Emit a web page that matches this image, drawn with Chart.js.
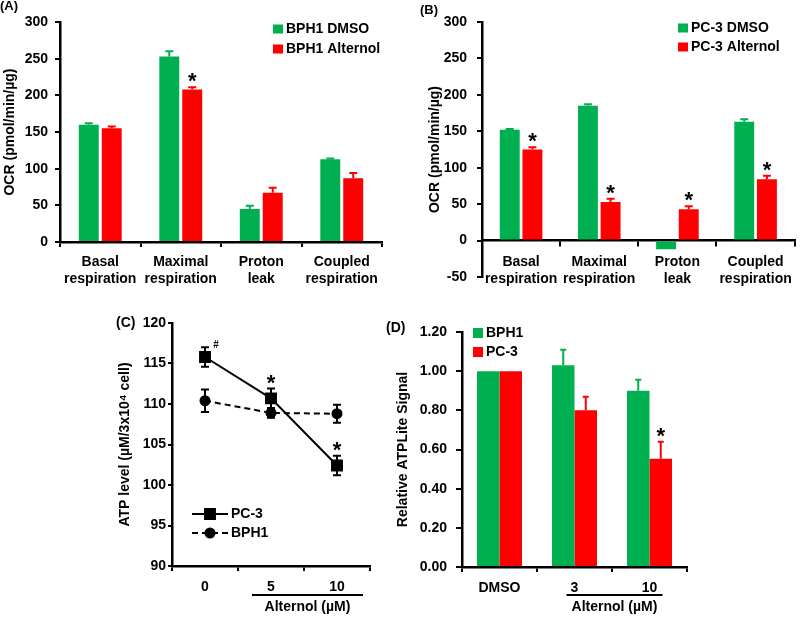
<!DOCTYPE html>
<html>
<head>
<meta charset="utf-8">
<script src="https://cdn.jsdelivr.net/npm/chart.js@4/dist/chart.umd.min.js"></script>
<style>
  body { margin: 0; background: #fff; width: 800px; height: 618px; position: relative; overflow: hidden; }
  canvas { position: absolute; }
</style>
</head>
<body>
<canvas id="ocrBph1" width="400" height="300" style="left:0;top:0"></canvas>
<canvas id="ocrPc3" width="400" height="300" style="left:400px;top:0"></canvas>
<canvas id="atpLevel" width="380" height="318" style="left:0;top:300px"></canvas>
<canvas id="atpLite" width="420" height="318" style="left:380px;top:300px"></canvas>
<script>
// --- datos ---
const respLabels = [["Basal", "respiration"], ["Maximal", "respiration"], ["Proton", "leak"], ["Coupled", "respiration"]];

const bphDmso = [160, 253, 45, 113];
const bphDmsoErr = [2, 7, 4.5, 1];
const bphAlt = [155, 208, 67, 87];
const bphAltErr = [2.5, 3, 7, 7];
const bphAltStar = ["", "*", "", ""];

const pc3Dmso = [152, 185, -12, 163];
const pc3DmsoErr = [1, 2, 0, 3.5];
const pc3Alt = [125, 53, 43, 84];
const pc3AltErr = [3, 4.5, 4, 5];
const pc3AltStar = ["*", "*", "*", "*"];

const doseLabels = ["0", "5", "10"];
const atpPc3 = [115.8, 110.7, 102.4];
const atpPc3Err = [1.2, 1.2, 1.2];
const atpPc3Mark = ["#", "*", "*"];
const atpBph1 = [110.4, 108.9, 108.8];
const atpBph1Err = [1.4, 0.6, 1.1];

const liteLabels = ["DMSO", "3", "10"];
const liteBph1 = [1.00, 1.03, 0.90];
const liteBph1Err = [0, 0.08, 0.056];
const litePc3 = [1.00, 0.80, 0.553];
const litePc3Err = [0, 0.07, 0.086];
const litePc3Star = ["", "", "*"];

const ARIAL = "'Liberation Sans', Arial, sans-serif";
const GREEN = "#00B050";
const RED = "#FF0000";

// barras de error (solo hacia arriba en las barras, a ambos lados en la linea)
const errorBars = {
    id: "errorBars",
    afterDatasetsDraw(chart, args, opts) {
        const ctx = chart.ctx;
        const y = chart.scales.y;
        ctx.save();
        chart.data.datasets.forEach((ds, i) => {
            if (!ds.errors) return;
            chart.getDatasetMeta(i).data.forEach((el, j) => {
                const e = ds.errors[j];
                if (!e) return;
                const v = ds.data[j];
                const top = y.getPixelForValue(v + e);
                const bot = y.getPixelForValue(opts.both ? v - e : v);
                ctx.strokeStyle = opts.color || ds.backgroundColor;
                ctx.lineWidth = opts.width;
                ctx.beginPath();
                ctx.moveTo(el.x, bot);
                ctx.lineTo(el.x, top);
                ctx.moveTo(el.x - opts.cap, top);
                ctx.lineTo(el.x + opts.cap, top);
                if (opts.both) {
                    ctx.moveTo(el.x - opts.cap, bot);
                    ctx.lineTo(el.x + opts.cap, bot);
                }
                ctx.stroke();
            });
        });
        ctx.restore();
    }
};

// asteriscos y # sobre las barras de error
const starMarks = {
    id: "starMarks",
    afterDatasetsDraw(chart, args, opts) {
        const ctx = chart.ctx;
        const y = chart.scales.y;
        ctx.save();
        ctx.fillStyle = "#000";
        ctx.textAlign = "center";
        ctx.textBaseline = "alphabetic";
        chart.data.datasets.forEach((ds, i) => {
            if (!ds.marks) return;
            chart.getDatasetMeta(i).data.forEach((el, j) => {
                const m = ds.marks[j];
                if (!m) return;
                const top = y.getPixelForValue(ds.data[j] + (ds.errors ? ds.errors[j] : 0));
                if (m === "#") {
                    ctx.font = opts.hashFont;
                    ctx.fillText(m, el.x + opts.hashDx, top + opts.hashDy);
                } else {
                    ctx.font = opts.font;
                    ctx.fillText(m, el.x, top + opts.dy);
                }
            });
        });
        ctx.restore();
    }
};

// leyenda dibujada dentro del panel
const panelLegend = {
    id: "panelLegend",
    afterDraw(chart, args, opts) {
        const ctx = chart.ctx;
        ctx.save();
        ctx.font = opts.font;
        ctx.textBaseline = "middle";
        ctx.textAlign = "left";
        chart.data.datasets.forEach((ds, i) => {
            const yy = opts.y + i * opts.rowGap;
            if (opts.lines) {
                ctx.strokeStyle = ds.borderColor;
                ctx.lineWidth = ds.borderWidth;
                ctx.setLineDash(ds.borderDash || []);
                ctx.beginPath();
                ctx.moveTo(opts.x, yy);
                ctx.lineTo(opts.x + opts.sample, yy);
                ctx.stroke();
                ctx.setLineDash([]);
                ctx.fillStyle = ds.pointBackgroundColor;
                Chart.helpers.drawPoint(ctx, { pointStyle: ds.pointStyle, radius: ds.pointRadius, borderWidth: 1 }, opts.x + opts.sample / 2, yy);
            } else {
                ctx.fillStyle = ds.backgroundColor;
                ctx.fillRect(opts.x, yy - opts.box / 2, opts.sample, opts.box);
            }
            ctx.fillStyle = "#000";
            ctx.fillText(ds.label, opts.x + opts.sample + opts.textGap, yy);
        });
        ctx.restore();
    }
};

// letras de panel y la linea "Alternol (uM)"
const panelText = {
    id: "panelText",
    afterDraw(chart, args, opts) {
        const ctx = chart.ctx;
        ctx.save();
        ctx.fillStyle = "#000";
        ctx.textBaseline = "middle";
        (opts.items || []).forEach((t) => {
            ctx.font = t.font;
            ctx.textAlign = t.align || "left";
            ctx.fillText(t.text, t.x, t.y);
        });
        if (opts.bracket) {
            const b = opts.bracket;
            const xs = chart.scales.x;
            const labels = chart.data.labels;
            const x1 = xs.getPixelForValue(labels.indexOf(b.from)) + b.dxFrom;
            const x2 = xs.getPixelForValue(labels.indexOf(b.to)) + b.dxTo;
            const ly = chart.chartArea.bottom + b.lineDy;
            ctx.strokeStyle = "#000";
            ctx.lineWidth = 2;
            ctx.beginPath();
            ctx.moveTo(x1, ly);
            ctx.lineTo(x2, ly);
            ctx.stroke();
            ctx.font = b.font;
            ctx.textAlign = "center";
            ctx.fillText(b.text, (x1 + x2) / 2, chart.chartArea.bottom + b.textDy);
        }
        ctx.restore();
    }
};

const plugins = [errorBars, starMarks, panelLegend, panelText];

function axisLines(tickLength) {
    return {
        grid: { display: true, drawOnChartArea: false, drawTicks: true, tickLength: tickLength, color: "#000", lineWidth: 2 },
        border: { display: true, color: "#000", width: 2.5 }
    };
}

// (A) BPH1
new Chart(document.getElementById("ocrBph1"), {
    type: "bar",
    data: {
        labels: respLabels,
        datasets: [
            { label: "BPH1 DMSO", data: bphDmso, errors: bphDmsoErr, backgroundColor: GREEN, categoryPercentage: 0.57, barPercentage: 0.87 },
            { label: "BPH1 Alternol", data: bphAlt, errors: bphAltErr, marks: bphAltStar, backgroundColor: RED, categoryPercentage: 0.57, barPercentage: 0.87 }
        ]
    },
    options: {
        responsive: false,
        animation: false,
        devicePixelRatio: 1,
        layout: { padding: { left: 0, right: 18, top: 22, bottom: 0 } },
        scales: {
            x: {
                ...axisLines(5),
                ticks: { color: "#000", padding: 7, font: { family: ARIAL, size: 14, weight: "bold", lineHeight: 1.2 } },
                afterFit: (s) => { s.height = 58; }
            },
            y: {
                min: 0, max: 300,
                ...axisLines(5),
                ticks: { stepSize: 50, color: "#000", padding: 7, font: { family: ARIAL, size: 14, weight: "bold" } },
                title: { display: true, text: "OCR (pmol/min/µg)", color: "#000", padding: { top: 2, bottom: 0 }, font: { family: ARIAL, size: 14, weight: "bold" } },
                afterFit: (s) => { s.width = 60; }
            }
        },
        plugins: {
            legend: { display: false },
            tooltip: { enabled: false },
            errorBars: { width: 2, cap: 4, both: false },
            starMarks: { font: "bold 22px " + ARIAL, dy: 1 },
            panelLegend: { x: 273, y: 29, rowGap: 20, sample: 10, box: 9, textGap: 3, font: "bold 14px " + ARIAL },
            panelText: { items: [{ text: "(A)", x: 0, y: 6, font: "bold 13px " + ARIAL }] }
        }
    },
    plugins: plugins
});

// (B) PC-3
new Chart(document.getElementById("ocrPc3"), {
    type: "bar",
    data: {
        labels: respLabels,
        datasets: [
            { label: "PC-3 DMSO", data: pc3Dmso, errors: pc3DmsoErr, backgroundColor: GREEN, categoryPercentage: 0.58, barPercentage: 0.88 },
            { label: "PC-3 Alternol", data: pc3Alt, errors: pc3AltErr, marks: pc3AltStar, backgroundColor: RED, categoryPercentage: 0.58, barPercentage: 0.88 }
        ]
    },
    options: {
        responsive: false,
        animation: false,
        devicePixelRatio: 1,
        layout: { padding: { left: 25, right: 2, top: 22, bottom: 23 } },
        scales: {
            x: {
                position: { y: 0 },
                ...axisLines(5),
                ticks: { color: "#000", padding: 8, font: { family: ARIAL, size: 14, weight: "bold", lineHeight: 1.2 } }
            },
            y: {
                min: -50, max: 300,
                ...axisLines(5),
                ticks: { stepSize: 50, color: "#000", padding: 10, font: { family: ARIAL, size: 14, weight: "bold" } },
                title: { display: true, text: "OCR (pmol/min/µg)", color: "#000", padding: { top: 2, bottom: 0 }, font: { family: ARIAL, size: 14, weight: "bold" } },
                afterFit: (s) => { s.width = 57; }
            }
        },
        plugins: {
            legend: { display: false },
            tooltip: { enabled: false },
            errorBars: { width: 2, cap: 4, both: false },
            starMarks: { font: "bold 22px " + ARIAL, dy: 1 },
            panelLegend: { x: 278, y: 28, rowGap: 19, sample: 10, box: 9, textGap: 3, font: "bold 14px " + ARIAL },
            panelText: { items: [{ text: "(B)", x: 20, y: 10, font: "bold 13px " + ARIAL }] }
        }
    },
    plugins: plugins
});

// (C) ATP level
new Chart(document.getElementById("atpLevel"), {
    type: "line",
    data: {
        labels: doseLabels,
        datasets: [
            {
                label: "PC-3", data: atpPc3, errors: atpPc3Err, marks: atpPc3Mark,
                borderColor: "#000", borderWidth: 2, backgroundColor: "#000",
                pointStyle: "rect", pointRadius: 7, pointBackgroundColor: "#000", pointBorderColor: "#000", tension: 0
            },
            {
                label: "BPH1", data: atpBph1, errors: atpBph1Err,
                borderColor: "#000", borderWidth: 2, borderDash: [6, 4], backgroundColor: "#000",
                pointStyle: "circle", pointRadius: 4.5, pointBackgroundColor: "#000", pointBorderColor: "#000", tension: 0
            }
        ]
    },
    options: {
        responsive: false,
        animation: false,
        devicePixelRatio: 1,
        layout: { padding: { left: 115, right: 10, top: 23, bottom: 0 } },
        scales: {
            x: {
                type: "category",
                offset: true,
                ...axisLines(5),
                grid: { display: true, offset: true, drawOnChartArea: false, drawTicks: true, tickLength: 5, color: "#000", lineWidth: 2 },
                ticks: { color: "#000", padding: 8, font: { family: ARIAL, size: 14, weight: "bold" } },
                afterFit: (s) => { s.height = 52; }
            },
            y: {
                min: 90, max: 120,
                ...axisLines(4),
                ticks: { stepSize: 5, color: "#000", padding: 2, font: { family: ARIAL, size: 14, weight: "bold" } },
                title: { display: true, text: "ATP level (µM/3x10⁴ cell)", color: "#000", padding: { top: 2, bottom: 0 }, font: { family: ARIAL, size: 14, weight: "bold" } },
                afterFit: (s) => { s.width = 57; }
            }
        },
        plugins: {
            legend: { display: false },
            tooltip: { enabled: false },
            errorBars: { width: 2, cap: 4, both: true, color: "#000" },
            starMarks: { font: "bold 22px " + ARIAL, dy: 1, hashFont: "bold 10px " + ARIAL, hashDx: 11, hashDy: 1 },
            panelLegend: { x: 192, y: 214, rowGap: 19, sample: 36, box: 9, textGap: 3, lines: true, font: "bold 14px " + ARIAL },
            panelText: {
                items: [{ text: "(C)", x: 116, y: 23, font: "bold 14px " + ARIAL }],
                bracket: { from: "5", to: "10", dxFrom: -19, dxTo: 26, lineDy: 29, textDy: 41, text: "Alternol (µM)", font: "bold 14px " + ARIAL }
            }
        }
    },
    plugins: plugins
});

// (D) ATPLite
new Chart(document.getElementById("atpLite"), {
    type: "bar",
    data: {
        labels: liteLabels,
        datasets: [
            { label: "BPH1", data: liteBph1, errors: liteBph1Err, backgroundColor: GREEN, categoryPercentage: 0.6, barPercentage: 1.0 },
            { label: "PC-3", data: litePc3, errors: litePc3Err, marks: litePc3Star, backgroundColor: RED, categoryPercentage: 0.6, barPercentage: 1.0 }
        ]
    },
    options: {
        responsive: false,
        animation: false,
        devicePixelRatio: 1,
        layout: { padding: { left: 13, right: 113, top: 32, bottom: 0 } },
        scales: {
            x: {
                ...axisLines(5),
                ticks: { color: "#000", padding: 8, font: { family: ARIAL, size: 14, weight: "bold" } },
                afterFit: (s) => { s.height = 51; }
            },
            y: {
                min: 0, max: 1.2,
                ...axisLines(6),
                ticks: { stepSize: 0.2, color: "#000", padding: 9, font: { family: ARIAL, size: 14, weight: "bold" }, callback: (v) => Number(v).toFixed(2) },
                title: { display: true, text: "Relative ATPLite Signal", color: "#000", padding: { top: 2, bottom: 0 }, font: { family: ARIAL, size: 14, weight: "bold" } },
                afterFit: (s) => { s.width = 69; }
            }
        },
        plugins: {
            legend: { display: false },
            tooltip: { enabled: false },
            errorBars: { width: 2, cap: 3, both: false },
            starMarks: { font: "bold 22px " + ARIAL, dy: 1 },
            panelLegend: { x: 93, y: 33, rowGap: 19, sample: 10, box: 10, textGap: 3, font: "bold 14px " + ARIAL },
            panelText: {
                items: [{ text: "(D)", x: 6, y: 28, font: "bold 14px " + ARIAL }],
                bracket: { from: "3", to: "10", dxFrom: -8, dxTo: 13, lineDy: 28, textDy: 40, text: "Alternol (µM)", font: "bold 14px " + ARIAL }
            }
        }
    },
    plugins: plugins
});
</script>
</body>
</html>
